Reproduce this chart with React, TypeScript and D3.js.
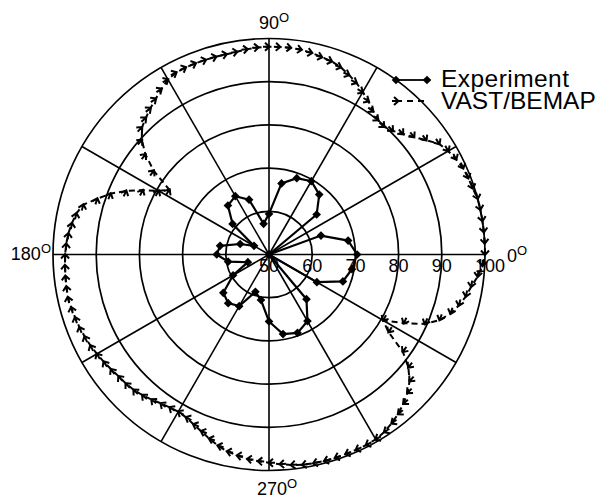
import React from "react";
import { scaleLinear, lineRadial, curveLinearClosed, symbol, symbolDiamond2, range } from "d3";

const width = 608;
const height = 501;
const cx = 269;
const cy = 254.5;
const outerR = 216;
const font = "'Liberation Sans', Arial, Helvetica, sans-serif";

// radial ticks (50 at the centre)
const radialTicks = [50, 60, 70, 80, 90, 100];
const spokeAngles = [0, 30, 60, 90, 120, 150, 180, 210, 240, 270, 300, 330];

// measured, every 10 degrees
const expAngles = range(0, 360, 10);
const expValues = [
  70.4, 68.6, 62.8, 48, 64.4, 68.1, 69.6, 68.8, 66.7, 59.4, 57.2, 63.5,
  65.6, 64.8, 61, 54, 57.1, 61.5, 62.1, 59.6, 55.2, 59.6, 63.8, 64.7,
  63.8, 59.2, 60.7, 65.5, 68.7, 69.3, 67.8, 63.5, 48, 62.8, 68.2, 69.5,
];

// VAST/BEMAP prediction, every 3 degrees
const vastAngles = range(0, 360, 3);
const vastValues = [
  100, 100, 100, 100, 100, 100, 99.6, 99.4, 99.2, 98.6, 97.9, 97, 95, 93.2, 91.7, 90.5,
  89.8, 90.1, 91, 92.3, 93.4, 94.6, 95.5, 96.4, 97, 97.3, 97.7, 98, 98.1, 98.1, 98.1, 98,
  97.8, 97.5, 97.4, 97.4, 97.4, 97.4, 97.4, 97.3, 96.8, 95.7, 94.6, 93.6, 92.6, 91.6, 89.6, 86.8,
  83, 77.5, 79.5, 82.8, 86.2, 89.3, 91.8, 94.5, 95.6, 96.2, 96.7, 97, 97.2, 97.3, 97.4, 97.5,
  97.6, 97.4, 97.2, 97, 96.7, 96.4, 96, 95.6, 95.2, 94.8, 94.6, 94.3, 93.8, 93.2, 92.6, 92.2,
  92, 92.3, 93, 93.8, 94.8, 95.8, 96.6, 97.1, 97.6, 97.9, 98.2, 98.6, 99, 99.3, 99.4, 99.5,
  99.5, 99.5, 99.5, 99.5, 99.4, 99, 98.3, 97.5, 96.5, 95.3, 93.8, 91.5, 88.3, 83, 80.5, 85,
  89.5, 92.3, 94.2, 95.5, 96.6, 97.4, 98.6, 99.5,
];

const rScale = scaleLinear().domain([50, 100]).range([0, outerR]).clamp(true);
const toRad = (deg) => ((90 - deg) * Math.PI) / 180;

const polarLine = lineRadial()
  .angle((d) => toRad(d[0]))
  .radius((d) => rScale(d[1]))
  .curve(curveLinearClosed);

const pos = (deg, v) => {
  const a = (deg * Math.PI) / 180;
  const r = rScale(v);
  return [r * Math.cos(a), -r * Math.sin(a)];
};

const expData = expAngles.map((a, i) => [a, expValues[i]]);
const vastData = vastAngles.map((a, i) => [a, vastValues[i]]);

const diamond = symbol().type(symbolDiamond2).size(48)();
const chevron = "M-4,-4L0.5,0L-4,4M0.5,0L-6,0";

const Deg = ({ x, y, anchor, label }) => (
  <text x={x} y={y} textAnchor={anchor} fontSize={18} fontFamily={font} fill="#000">
    {label}
    <tspan fontSize={13} dy={-7}>O</tspan>
  </text>
);

const App = () => {
  return (
    <svg
      width={width}
      height={height}
      style={{ position: "absolute", left: 0, top: 0, background: "#fff" }}
    >
      <g transform={`translate(${cx},${cy})`}>
        {radialTicks.slice(1).map((t) => (
          <circle key={t} r={rScale(t)} fill="none" stroke="#000" strokeWidth={1.7} />
        ))}
        {spokeAngles.map((a) => {
          const [x, y] = pos(a, 100);
          return <line key={a} x1={0} y1={0} x2={x} y2={y} stroke="#000" strokeWidth={1.6} />;
        })}

        {/* VAST/BEMAP */}
        <path
          d={polarLine(vastData)}
          fill="none"
          stroke="#000"
          strokeWidth={2}
          strokeDasharray="6,4"
        />
        {vastData.map(([a, v]) => {
          const [x, y] = pos(a, v);
          return (
            <path
              key={a}
              d={chevron}
              transform={`translate(${x},${y}) rotate(${90 - a})`}
              fill="none"
              stroke="#000"
              strokeWidth={2}
            />
          );
        })}

        {/* Experiment */}
        <path d={polarLine(expData)} fill="none" stroke="#000" strokeWidth={2.2} />
        {expData.map(([a, v]) => {
          const [x, y] = pos(a, v);
          return <path key={a} d={diamond} transform={`translate(${x},${y})`} fill="#000" />;
        })}

        {radialTicks.map((t) => (
          <text
            key={t}
            x={rScale(t) + (t === 100 ? 5 : 0)}
            y={17.5}
            textAnchor="middle"
            fontSize={18}
            fontFamily={font}
            fill="#000"
          >
            {t}
          </text>
        ))}

        <Deg x={outerR + 22} y={7.5} anchor="start" label="0" />
        <Deg x={5} y={-outerR - 10} anchor="middle" label="90" />
        <Deg x={-outerR - 2} y={5.5} anchor="end" label="180" />
        <Deg x={8} y={outerR + 24} anchor="middle" label="270" />
      </g>

      {/* legend */}
      <g fontFamily={font} fontSize={24.5} fill="#000">
        <line x1={396} y1={80} x2={427} y2={80} stroke="#000" strokeWidth={1.8} />
        <path d={diamond} transform="translate(396,80)" fill="#000" />
        <path d={diamond} transform="translate(427,80)" fill="#000" />
        <text x={441} y={87} textLength={128}>Experiment</text>
        <line
          x1={396}
          y1={101}
          x2={427}
          y2={101}
          stroke="#000"
          strokeWidth={1.8}
          strokeDasharray="6,5"
        />
        <path
          d={chevron}
          transform="translate(398,101)"
          fill="none"
          stroke="#000"
          strokeWidth={2}
        />
        <text x={441} y={109}>VAST/BEMAP</text>
      </g>
    </svg>
  );
};

export default App;
